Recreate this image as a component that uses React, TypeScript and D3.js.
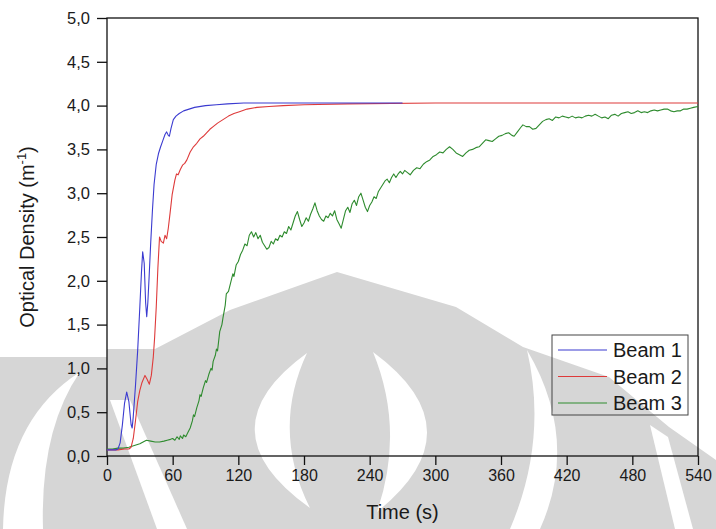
import React, { useEffect, useRef } from 'react';
import * as d3 from 'd3';

/* ── data: [time (s), optical density] ── */
const beam1: [number, number][] = [
  [0, 0.07], [5, 0.07], [8, 0.07], [10, 0.08], [12, 0.15], [14, 0.35], [16, 0.6], [18, 0.73],
  [20, 0.62], [22, 0.36], [23, 0.32], [24, 0.45], [26, 0.8], [28, 1.2], [30, 1.7], [31.5, 2.1],
  [32.6, 2.33], [34, 2.2], [35.3, 1.75], [36.3, 1.59], [37.3, 1.75], [38.5, 2.05], [40, 2.45],
  [41.5, 2.8], [43, 3.1], [45, 3.33], [47, 3.45], [49, 3.53], [51, 3.6], [53, 3.67], [54.5, 3.7],
  [56, 3.66], [57, 3.65], [58.5, 3.74], [60.6, 3.84], [63, 3.88], [66, 3.91], [70, 3.94],
  [75, 3.96], [80, 3.98], [90, 4.0], [100, 4.01], [110, 4.02], [125, 4.03], [150, 4.03],
  [200, 4.03], [270, 4.03]
];

const beam2: [number, number][] = [
  [0, 0.07], [10, 0.07], [16, 0.08], [20, 0.08], [22, 0.1], [24, 0.2], [26, 0.4], [28, 0.62],
  [30, 0.75], [32, 0.84], [34.7, 0.92], [36.5, 0.88], [38.7, 0.82], [40.5, 0.92], [42.3, 1.13],
  [43.5, 1.35], [45, 1.7], [46.5, 2.15], [48, 2.5], [49.5, 2.45], [51.5, 2.43], [53, 2.52],
  [54.5, 2.48], [56, 2.6], [57.6, 2.77], [59.5, 2.98], [62, 3.15], [63.5, 3.22], [65, 3.21],
  [67, 3.27], [69, 3.32], [71, 3.34], [73, 3.38], [76, 3.47], [79, 3.53], [82, 3.57], [85, 3.62],
  [88, 3.65], [91, 3.69], [94, 3.73], [97, 3.76], [101, 3.8], [106, 3.84], [111, 3.88],
  [116, 3.91], [121, 3.93], [128, 3.96], [137, 3.98], [148, 3.99], [161, 4.0], [180, 4.01],
  [220, 4.02], [300, 4.03], [540, 4.03]
];

const beam3: [number, number][] = [
  [0, 0.08], [5, 0.08], [10, 0.09], [15, 0.09], [20, 0.1], [25, 0.12], [30, 0.14], [33, 0.16],
  [36, 0.18], [40, 0.17], [44, 0.16], [48, 0.16], [52, 0.17], [55, 0.18], [58, 0.19], [60, 0.2],
  [62, 0.18], [64, 0.22], [66, 0.19], [67, 0.23], [69, 0.2], [70, 0.24], [72, 0.22], [74, 0.27],
  [76, 0.32], [78, 0.4], [79, 0.47], [80, 0.45], [82, 0.55], [84, 0.63], [85, 0.7], [86, 0.68],
  [88, 0.78], [90, 0.86], [91, 0.84], [93, 0.93], [95, 1.0], [96, 0.98], [97, 1.08], [99, 1.15],
  [100, 1.22], [101, 1.2], [103, 1.42], [105, 1.5], [106, 1.58], [108, 1.72], [109, 1.85],
  [111, 1.88], [113, 1.98], [115, 2.08], [116, 2.05], [118, 2.18], [120, 2.22], [122, 2.3],
  [124, 2.35], [126, 2.42], [128, 2.4], [130, 2.52], [132, 2.56], [134, 2.5], [136, 2.55],
  [138, 2.48], [140, 2.52], [142, 2.44], [144, 2.4], [146, 2.36], [148, 2.38], [150, 2.45],
  [152, 2.42], [154, 2.48], [156, 2.46], [158, 2.52], [160, 2.5], [162, 2.56], [164, 2.54],
  [166, 2.62], [168, 2.58], [170, 2.66], [172, 2.74], [174, 2.79], [176, 2.7], [178, 2.62],
  [180, 2.66], [182, 2.72], [184, 2.68], [186, 2.76], [188, 2.82], [190, 2.89], [192, 2.8],
  [194, 2.74], [196, 2.7], [198, 2.68], [200, 2.74], [202, 2.72], [204, 2.77], [206, 2.74],
  [208, 2.8], [210, 2.7], [212, 2.65], [214, 2.6], [216, 2.7], [218, 2.8], [220, 2.84],
  [222, 2.78], [224, 2.88], [226, 2.92], [228, 2.86], [230, 2.96], [232, 3.0], [234, 2.92],
  [236, 2.84], [238, 2.79], [240, 2.86], [242, 2.9], [244, 2.96], [246, 2.94], [248, 3.02],
  [250, 3.06], [252, 3.1], [254, 3.14], [256, 3.16], [258, 3.12], [260, 3.18], [262, 3.22],
  [264, 3.18], [266, 3.22], [268, 3.25], [270, 3.22], [272, 3.26], [274, 3.24], [277, 3.21],
  [280, 3.26], [283, 3.29], [286, 3.28], [289, 3.33], [292, 3.36], [295, 3.38], [298, 3.42],
  [301, 3.44], [304, 3.47], [307, 3.46], [310, 3.5], [313, 3.53], [316, 3.5], [319, 3.46],
  [322, 3.44], [325, 3.42], [328, 3.46], [331, 3.49], [334, 3.5], [337, 3.52], [340, 3.53],
  [343, 3.57], [346, 3.61], [349, 3.6], [352, 3.59], [355, 3.62], [358, 3.65], [361, 3.66],
  [364, 3.68], [367, 3.69], [370, 3.66], [372, 3.65], [375, 3.7], [378, 3.75], [380, 3.78],
  [383, 3.76], [386, 3.76], [389, 3.73], [392, 3.74], [395, 3.78], [398, 3.82], [401, 3.84],
  [404, 3.85], [407, 3.83], [410, 3.87], [413, 3.86], [416, 3.88], [419, 3.87], [422, 3.86],
  [425, 3.88], [428, 3.86], [431, 3.87], [434, 3.86], [437, 3.88], [440, 3.89], [443, 3.88],
  [446, 3.9], [449, 3.88], [452, 3.86], [455, 3.87], [458, 3.85], [461, 3.89], [464, 3.9],
  [467, 3.88], [470, 3.91], [473, 3.92], [476, 3.93], [479, 3.91], [482, 3.92], [485, 3.94],
  [488, 3.92], [491, 3.93], [494, 3.92], [497, 3.94], [500, 3.95], [503, 3.94], [506, 3.95],
  [509, 3.96], [512, 3.96], [515, 3.94], [518, 3.93], [521, 3.94], [524, 3.94], [527, 3.96],
  [530, 3.96], [533, 3.97], [536, 3.98], [540, 3.99]
];

const seriesNames = ['Beam 1', 'Beam 2', 'Beam 3'];
const seriesColors = ['#3b3bd0', '#de3a3a', '#2e8b2e'];
const xTicks = [0, 60, 120, 180, 240, 300, 360, 420, 480, 540];
const yTicks = [0, 0.5, 1, 1.5, 2, 2.5, 3, 3.5, 4, 4.5, 5];

/* faint watermark behind the plot (page decoration, not data) */
const wmGrey: [number, number][] = [
  [0, 357], [107, 357], [107, 349], [155, 349], [230, 310], [337, 272], [456, 307], [523, 347],
  [609, 377], [669, 427], [716, 460], [716, 529], [0, 529]
];
// crescents: top, outer control, outer end, inner end, inner control
const wmCrescents: [number, number][][] = [
  [[80, 372], [5, 420], [3, 529], [43, 529], [40, 430]],
  [[307, 353], [201, 430], [310, 508], [310, 508], [271, 430]],
  [[373, 352], [479, 430], [377, 512], [377, 512], [405, 430]],
  [[527, 350], [580, 440], [540, 529], [510, 529], [548, 440]]
];
const wmBands: [number, number][][] = [
  [[110, 400], [130, 400], [187, 529], [157, 529]],
  [[650, 425], [668, 437], [693, 529], [675, 529]]
];

const W = 716, H = 529;
const M = { t: 18, r: 18, b: 73, l: 107 };
const FONT = '"Liberation Sans", Arial, sans-serif';

export default function App() {
  const ref = useRef<SVGSVGElement>(null);

  useEffect(() => {
    const svg = d3.select(ref.current);
    svg.selectAll('*').remove();

    const x = d3.scaleLinear().domain([0, 540]).range([M.l, W - M.r]);
    const y = d3.scaleLinear().domain([0, 5]).range([H - M.b, M.t]);
    const fmt = (v: number) => d3.format('.1f')(v).replace('.', ',');

    /* watermark */
    const poly = d3.line().curve(d3.curveLinearClosed);
    svg.append('path').attr('d', poly(wmGrey)).attr('fill', '#d6d6d6');
    wmBands.forEach(p => svg.append('path').attr('d', poly(p)).attr('fill', '#fff'));
    wmCrescents.forEach(([top, oc, oe, ie, ic]) => {
      const p = d3.path();
      p.moveTo(top[0], top[1]);
      p.quadraticCurveTo(oc[0], oc[1], oe[0], oe[1]);
      p.lineTo(ie[0], ie[1]);
      p.quadraticCurveTo(ic[0], ic[1], top[0], top[1]);
      p.closePath();
      svg.append('path').attr('d', p.toString()).attr('fill', '#fff');
    });

    /* frame */
    svg.append('rect')
      .attr('x', M.l).attr('y', M.t)
      .attr('width', W - M.r - M.l).attr('height', H - M.b - M.t)
      .attr('fill', 'none').attr('stroke', '#111').attr('stroke-width', 1.3);

    /* series */
    const line = d3.line<[number, number]>().x(d => x(d[0])).y(d => y(d[1]));
    [beam3, beam2, beam1].forEach((s, i) => {
      svg.append('path')
        .datum(s)
        .attr('fill', 'none')
        .attr('stroke', seriesColors[2 - i])
        .attr('stroke-width', 1.1)
        .attr('stroke-linejoin', 'round')
        .attr('d', line);
    });

    /* x axis */
    const gx = svg.append('g').attr('transform', `translate(0,${H - M.b})`);
    gx.call(d3.axisBottom(x).tickValues(d3.range(30, 540, 60)).tickSize(5).tickFormat(() => ''));
    gx.call(d3.axisBottom(x).tickValues(xTicks).tickSize(9).tickPadding(5).tickFormat(d3.format('d')));
    gx.selectAll('path').remove();
    gx.selectAll('line').attr('stroke', '#111').attr('stroke-width', 1.3);
    gx.selectAll('text').attr('fill', '#1a1a1a').attr('font-size', 16).attr('font-family', FONT);

    /* y axis */
    const gy = svg.append('g').attr('transform', `translate(${M.l},0)`);
    gy.call(d3.axisLeft(y).tickValues(d3.range(0.25, 5, 0.5)).tickSize(5).tickFormat(() => ''));
    gy.call(d3.axisLeft(y).tickValues(yTicks).tickSize(10).tickPadding(7).tickFormat(d => fmt(+d)));
    gy.selectAll('path').remove();
    gy.selectAll('line').attr('stroke', '#111').attr('stroke-width', 1.3);
    gy.selectAll('text').attr('fill', '#1a1a1a').attr('font-size', 16.5).attr('font-family', FONT);

    /* axis titles */
    svg.append('text')
      .attr('x', (M.l + W - M.r) / 2).attr('y', 519)
      .attr('text-anchor', 'middle').attr('font-size', 20).attr('font-family', FONT).attr('fill', '#1a1a1a')
      .text('Time (s)');

    const yt = svg.append('text')
      .attr('transform', `translate(34,${(M.t + H - M.b) / 2}) rotate(-90)`)
      .attr('text-anchor', 'middle').attr('font-size', 20).attr('font-family', FONT).attr('fill', '#1a1a1a');
    yt.append('tspan').text('Optical Density (m');
    yt.append('tspan').attr('font-size', 13).attr('dy', -8).text('-1');
    yt.append('tspan').attr('dy', 8).text(')');

    /* legend */
    const lg = svg.append('g').attr('transform', 'translate(552,335)');
    lg.append('rect').attr('width', 136).attr('height', 80)
      .attr('fill', 'none').attr('stroke', '#444').attr('stroke-width', 1);
    seriesNames.forEach((name, i) => {
      const cy = 15 + i * 26.5;
      lg.append('line').attr('x1', 6).attr('x2', 55).attr('y1', cy).attr('y2', cy)
        .attr('stroke', seriesColors[i]).attr('stroke-width', 1.1);
      lg.append('text').attr('x', 61).attr('y', cy + 7)
        .attr('font-size', 20).attr('font-family', FONT).attr('fill', '#1a1a1a').text(name);
    });
  }, []);

  return (
    <svg
      ref={ref}
      width={W}
      height={H}
      style={{ position: 'absolute', left: 0, top: 0, background: '#fff' }}
    />
  );
}
